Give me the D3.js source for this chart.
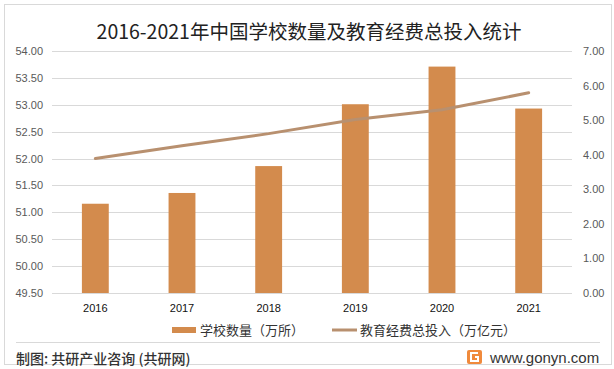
<!DOCTYPE html>
<html><head><meta charset="utf-8">
<script src="https://cdn.jsdelivr.net/npm/d3@7/dist/d3.min.js"></script>
<style>body{margin:0;background:#fff;}svg{display:block;font-family:"Noto Sans CJK SC","Noto Sans",sans-serif;}</style>
</head><body><svg id="c" width="614" height="369"></svg>
<script>
const years = ["2016","2017","2018","2019","2020","2021"];
const schools = [51.16, 51.36, 51.86, 53.01, 53.71, 52.93];
const funding = [3.89, 4.26, 4.61, 5.02, 5.30, 5.79];
const leftTicks = [49.5,50,50.5,51,51.5,52,52.5,53,53.5,54];
const rightTicks = [0,1,2,3,4,5,6,7];
const title = "2016-2021年中国学校数量及教育经费总投入统计";
const legendNames = ["学校数量（万所）","教育经费总投入（万亿元）"];
const source = "制图: 共研产业咨询 (共研网)";
const site = "www.gonyn.com";

const svg = d3.select("#c");
const barColor = "#D38B4D", lineColor = "#B8906F";
const L = 52, R = 572, T = 51, B = 293;

svg.append("rect").attr("x",4.5).attr("y",4.5).attr("width",607).attr("height",360)
  .attr("fill","#fff").attr("stroke","#d9d9d9");

svg.append("text").attr("x",309).attr("y",39).attr("text-anchor","middle")
  .attr("font-size",19.5).attr("fill","#222").text(title);

const x = d3.scaleBand().domain(years).range([L,R]).paddingInner(0.69).paddingOuter(0.345);
const yL = d3.scaleLinear().domain([49.5,54]).range([B,T]);
const yR = d3.scaleLinear().domain([0,7]).range([B,T]);

// grid
svg.append("g").selectAll("line").data(leftTicks).join("line")
  .attr("x1",L).attr("x2",R).attr("y1",d=>Math.round(yL(d))+0.5).attr("y2",d=>Math.round(yL(d))+0.5)
  .attr("stroke","#d9d9d9").attr("stroke-width",1);

// left axis
const gl = svg.append("g").attr("transform",`translate(${L},0)`)
  .call(d3.axisLeft(yL).tickValues(leftTicks).tickFormat(d3.format(".2f")).tickSize(0).tickPadding(9));
gl.select(".domain").remove();
gl.selectAll("text").attr("font-size",11).attr("fill","#595959").attr("font-family","Liberation Sans, Arial, sans-serif");

// right axis
const gr = svg.append("g").attr("transform",`translate(${R},0)`)
  .call(d3.axisRight(yR).tickValues(rightTicks).tickFormat(d3.format(".2f")).tickSize(0).tickPadding(11));
gr.select(".domain").remove();
gr.selectAll("text").attr("font-size",11).attr("fill","#595959").attr("font-family","Liberation Sans, Arial, sans-serif");

// bars
svg.append("g").selectAll("rect").data(years).join("rect")
  .attr("x",d=>x(d)).attr("width",x.bandwidth())
  .attr("y",(d,i)=>yL(schools[i])).attr("height",(d,i)=>B-yL(schools[i]))
  .attr("fill",barColor);

// x axis
const gx = svg.append("g").attr("transform",`translate(0,${B})`)
  .call(d3.axisBottom(x).tickSize(0).tickPadding(11));
gx.select(".domain").remove();
gx.selectAll("text").attr("font-size",11).attr("fill","#111").attr("font-family","Liberation Sans, Arial, sans-serif");

// line
const line = d3.line().x((d,i)=>x(years[i])+x.bandwidth()/2).y(d=>yR(d));
svg.append("path").datum(funding).attr("d",line).attr("fill","none")
  .attr("stroke",lineColor).attr("stroke-width",3).attr("stroke-linecap","round");

// legend
svg.append("rect").attr("x",172).attr("y",327).attr("width",24).attr("height",6).attr("fill",barColor);
svg.append("text").attr("x",200).attr("y",335).attr("font-size",13).attr("fill","#333").text(legendNames[0]);
svg.append("line").attr("x1",332).attr("x2",357).attr("y1",330).attr("y2",330).attr("stroke",lineColor).attr("stroke-width",3);
svg.append("text").attr("x",360).attr("y",335).attr("font-size",13).attr("fill","#333").text(legendNames[1]);

// separator
svg.append("line").attr("x1",16).attr("x2",600).attr("y1",342.5).attr("y2",342.5).attr("stroke","#d9d9d9");

// footer
svg.append("text").attr("x",16).attr("y",364).attr("font-size",14).attr("font-weight",500).attr("fill","#333").text(source);
const lg = svg.append("g").attr("transform","translate(467,350)");
lg.append("rect").attr("width",15).attr("height",14).attr("rx",2).attr("fill","#F08A3C");
lg.append("path").attr("d","M11,3 H4 V11 H11 V7 H8").attr("fill","none").attr("stroke","#fff").attr("stroke-width",2);
svg.append("text").attr("x",490).attr("y",363).attr("font-size",15).attr("fill","#333").attr("font-family","Liberation Sans, Arial, sans-serif").text(site);
</script></body></html>
